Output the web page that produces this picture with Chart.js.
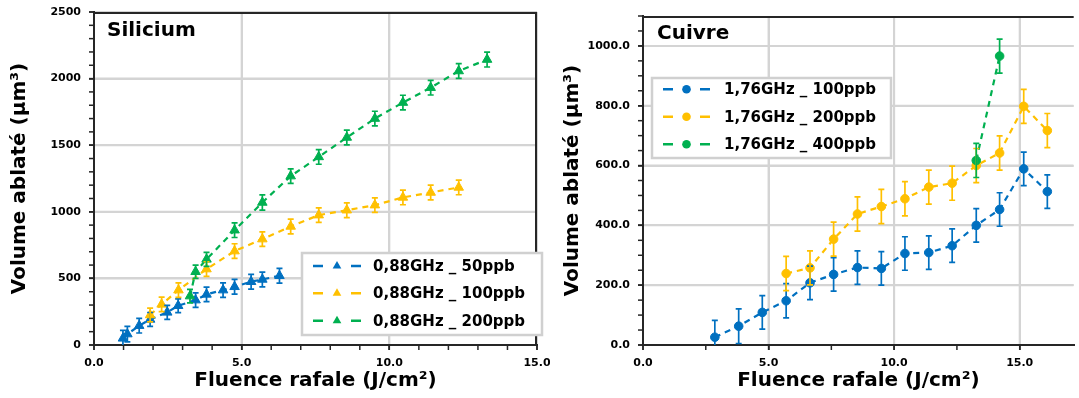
<!DOCTYPE html>
<html>
<head>
<meta charset="utf-8">
<script src="https://cdn.jsdelivr.net/npm/chart.js@4.4.1/dist/chart.umd.min.js"></script>
<style>
  html, body { margin: 0; padding: 0; background: #fff; }
  #wrap { position: relative; width: 1079px; height: 398px; overflow: hidden; }
  #left { position: absolute; left: 0; top: 0; }
  #right { position: absolute; left: 550px; top: 0; }
</style>
</head>
<body>
<div id="wrap">
  <canvas id="left" width="550" height="398"></canvas>
  <canvas id="right" width="529" height="398"></canvas>
</div>
<script>
// ---- Silicium, 0,88 GHz ----
const siLabels = ['0,88GHz _ 50ppb', '0,88GHz _ 100ppb', '0,88GHz _ 200ppb'];
const siX50 = [0.98, 1.13, 1.53, 1.90, 2.48, 2.85, 3.44, 3.81, 4.37, 4.76, 5.32, 5.70, 6.28];
const siY50 = [50, 82, 145, 192, 245, 295, 337, 380, 412, 437, 475, 492, 520];
const siE50 = [60, 58, 55, 52, 52, 52, 55, 55, 55, 55, 55, 55, 55];
const siX100 = [1.90, 2.29, 2.86, 3.81, 4.76, 5.70, 6.66, 7.61, 8.56, 9.51, 10.46, 11.40, 12.35];
const siY100 = [225, 305, 412, 570, 705, 795, 890, 975, 1012, 1050, 1108, 1145, 1183];
const siE100 = [52, 55, 55, 55, 55, 55, 55, 55, 55, 55, 55, 55, 55];
const siX200 = [3.25, 3.44, 3.81, 4.76, 5.70, 6.66, 7.61, 8.56, 9.51, 10.46, 11.40, 12.35, 13.31];
const siY200 = [367, 550, 643, 862, 1070, 1268, 1412, 1558, 1700, 1820, 1932, 2057, 2143];
const siE200 = [50, 50, 52, 55, 57, 55, 55, 55, 55, 55, 55, 55, 56];
const siXTicks = [0, 5, 10, 15];
const siYTicks = [0, 500, 1000, 1500, 2000, 2500];

// ---- Cuivre, 1,76 GHz ----
const cuLabels = ['1,76GHz _ 100ppb', '1,76GHz _ 200ppb', '1,76GHz _ 400ppb'];
const cuX100 = [2.86, 3.81, 4.75, 5.70, 6.65, 7.59, 8.54, 9.49, 10.43, 11.38, 12.31, 13.27, 14.20, 15.16, 16.10];
const cuY100 = [26, 63, 109, 148, 208, 236, 259, 256, 306, 309, 332, 400, 453, 589, 513];
const cuE100 = [56, 58, 56, 57, 56, 56, 56, 56, 56, 56, 56, 56, 56, 56, 56];
const cuX200 = [5.70, 6.65, 7.59, 8.54, 9.49, 10.43, 11.38, 12.31, 13.27, 14.20, 15.16, 16.10];
const cuY200 = [239, 258, 354, 438, 463, 489, 528, 541, 600, 642, 798, 717];
const cuE200 = [57, 57, 57, 57, 57, 57, 57, 57, 57, 57, 57, 57];
const cuX400 = [13.27, 14.20];
const cuY400 = [617, 966];
const cuE400 = [57, 57];
const cuXTicks = [0, 5, 10, 15];
const cuYTicks = [0, 200, 400, 600, 800, 1000];

const BLUE = '#0070C0';
const YELLOW = '#FFC000';
const GREEN = '#00B050';
const FONT = 'DejaVu Sans';
const GRID = '#d4d4d4';
const AXIS = '#262626';

function points(xs, ys) {
    return xs.map((x, i) => ({ x: x, y: ys[i] }));
}

function series(label, xs, ys, errs, color, style, radius, order) {
    return {
        label: label,
        data: points(xs, ys),
        errorBars: errs,
        borderColor: color,
        backgroundColor: color,
        borderWidth: 2.2,
        borderDash: [6, 5],
        pointStyle: style,
        pointRadius: radius,
        pointBackgroundColor: color,
        pointBorderColor: color,
        pointBorderWidth: 1,
        tension: 0,
        order: order
    };
}

function axis(o) {
    return {
        type: 'linear',
        min: 0,
        max: o.max,
        border: { color: AXIS, width: 2 },
        grid: {
            color: GRID,
            lineWidth: 2,
            tickColor: AXIS,
            tickWidth: 1.5,
            tickLength: 5
        },
        afterBuildTicks: s => { s.ticks = o.majors.map(v => ({ value: v })); },
        ticks: {
            autoSkip: false,
            maxRotation: 0,
            padding: o.pad,
            color: '#000',
            font: { family: FONT, size: 11, weight: 'bold' },
            callback: v => o.fmt(v)
        },
        title: {
            display: true,
            text: o.title,
            color: '#000',
            font: { family: FONT, size: 20, weight: 'bold' },
            padding: o.titlePad
        },
        afterFit: s => {
            if (s.isHorizontal()) s.height = o.size; else s.width = o.size;
            s.paddingTop = 0; s.paddingBottom = 0; s.paddingLeft = 0; s.paddingRight = 0;
        }
    };
}

function drawMarker(ctx, style, x, y, r) {
    ctx.beginPath();
    if (style === 'triangle') {
        ctx.moveTo(x, y - r);
        ctx.lineTo(x + r * 0.866, y + r * 0.5);
        ctx.lineTo(x - r * 0.866, y + r * 0.5);
        ctx.closePath();
    } else {
        ctx.arc(x, y, r, 0, Math.PI * 2);
    }
    ctx.fill();
}

// grid behind the data, then error bars, frame and minor tick marks on top
function drawOverlay(chart, o) {
    const ctx = chart.ctx;
    const a = chart.chartArea;
    const x = chart.scales.x, y = chart.scales.y;

    ctx.save();
    ctx.beginPath();
    ctx.rect(a.left, a.top, a.right - a.left, a.bottom - a.top);
    ctx.clip();

    ctx.globalCompositeOperation = 'destination-over';
    ctx.strokeStyle = GRID;
    ctx.lineWidth = 2;
    o.xMajors.forEach(v => {
        const px = x.getPixelForValue(v);
        if (v > 0) {
            ctx.beginPath(); ctx.moveTo(px, a.top); ctx.lineTo(px, a.bottom); ctx.stroke();
        }
    });
    o.yMajors.forEach(v => {
        const py = y.getPixelForValue(v);
        if (v > 0) {
            ctx.beginPath(); ctx.moveTo(a.left, py); ctx.lineTo(a.right, py); ctx.stroke();
        }
    });
    ctx.globalCompositeOperation = 'source-over';

    chart.data.datasets.forEach(ds => {
        ctx.strokeStyle = ds.borderColor;
        ctx.lineWidth = 1.7;
        ds.data.forEach((p, j) => {
            const px = x.getPixelForValue(p.x);
            const top = y.getPixelForValue(p.y + ds.errorBars[j]);
            const bot = y.getPixelForValue(p.y - ds.errorBars[j]);
            ctx.beginPath();
            ctx.moveTo(px, top); ctx.lineTo(px, bot);
            ctx.moveTo(px - 3, top); ctx.lineTo(px + 3, top);
            ctx.moveTo(px - 3, bot); ctx.lineTo(px + 3, bot);
            ctx.stroke();
        });
    });
    ctx.restore();

    ctx.save();
    ctx.strokeStyle = AXIS;
    ctx.lineWidth = 2;
    ctx.beginPath();
    ctx.moveTo(a.left, a.top + 1); ctx.lineTo(a.right, a.top + 1);
    ctx.stroke();
    if (o.rightBorder) {
        ctx.beginPath();
        ctx.moveTo(a.right - 1, a.top); ctx.lineTo(a.right - 1, a.bottom);
        ctx.stroke();
    }
    ctx.lineWidth = 1.5;
    for (let v = 0; v <= x.max + 1e-9; v += o.xMinor) {
        const px = x.getPixelForValue(v);
        ctx.beginPath(); ctx.moveTo(px, a.bottom); ctx.lineTo(px, a.bottom + 5); ctx.stroke();
    }
    for (let v = 0; v <= y.max + 1e-9; v += o.yMinor) {
        const py = y.getPixelForValue(v);
        ctx.beginPath(); ctx.moveTo(a.left - 5, py); ctx.lineTo(a.left, py); ctx.stroke();
    }
    ctx.restore();
}

function drawPanelText(chart, o) {
    const ctx = chart.ctx;
    ctx.save();
    ctx.fillStyle = '#000';
    ctx.font = 'bold 20px "' + FONT + '"';
    ctx.textBaseline = 'alphabetic';
    ctx.fillText(o.name, o.nameX, o.nameY);

    const L = o.legend;
    ctx.fillStyle = '#fff';
    ctx.fillRect(L.x, L.y, L.w, L.h);
    ctx.strokeStyle = '#d0d0d0';
    ctx.lineWidth = 2.5;
    ctx.strokeRect(L.x, L.y, L.w, L.h);
    chart.data.datasets.slice().sort((p, q) => q.order - p.order).forEach((ds, i) => {
        const ry = L.rows[i];
        ctx.strokeStyle = ds.borderColor;
        ctx.fillStyle = ds.borderColor;
        ctx.lineWidth = 2.5;
        ctx.beginPath();
        ctx.moveTo(L.s0, ry); ctx.lineTo(L.s0 + 10, ry);
        ctx.moveTo(L.s1 - 10, ry); ctx.lineTo(L.s1, ry);
        ctx.stroke();
        drawMarker(ctx, ds.pointStyle, (L.s0 + L.s1) / 2, ry, L.r);
        ctx.fillStyle = '#000';
        ctx.font = 'bold 15px "' + FONT + '"';
        ctx.textBaseline = 'middle';
        ctx.fillText(ds.label, L.tx, ry + 1);
    });
    ctx.restore();
}

const panelPlugin = {
    id: 'panel',
    afterDatasetsDraw(chart) {
        drawOverlay(chart, chart.options.plugins.panel);
    },
    afterDraw(chart) {
        drawPanelText(chart, chart.options.plugins.panel);
    }
};

const yTitle = 'Volume ablaté (µm³)';
const xTitle = 'Fluence rafale (J/cm²)';

new Chart(document.getElementById('left'), {
    type: 'line',
    data: {
        datasets: [
            series(siLabels[0], siX50, siY50, siE50, BLUE, 'triangle', 5.5, 2),
            series(siLabels[1], siX100, siY100, siE100, YELLOW, 'triangle', 5.5, 1),
            series(siLabels[2], siX200, siY200, siE200, GREEN, 'triangle', 5.5, 0)
        ]
    },
    options: {
        responsive: false,
        animation: false,
        devicePixelRatio: 1,
        layout: { padding: { top: 12, right: 13, left: 0, bottom: 0 } },
        scales: {
            x: axis({ max: 15, majors: siXTicks, fmt: v => v.toFixed(1), pad: 7,
                      title: xTitle, titlePad: { top: 0, bottom: 5 }, size: 53 }),
            y: axis({ max: 2500, majors: siYTicks, fmt: v => String(v), pad: 8,
                      title: yTitle, titlePad: { top: 8, bottom: 0 }, size: 94 })
        },
        plugins: {
            legend: { display: false },
            tooltip: { enabled: false },
            panel: {
                xMajors: siXTicks, yMajors: siYTicks,
                xMinor: 1, yMinor: 100,
                rightBorder: true,
                name: 'Silicium', nameX: 107, nameY: 36,
                legend: { x: 302, y: 253, w: 240, h: 82, rows: [266, 293.3, 320.7],
                          s0: 313, s1: 361, r: 5, tx: 373 }
            }
        }
    },
    plugins: [panelPlugin]
});

new Chart(document.getElementById('right'), {
    type: 'line',
    data: {
        datasets: [
            series(cuLabels[0], cuX100, cuY100, cuE100, BLUE, 'circle', 4.3, 2),
            series(cuLabels[1], cuX200, cuY200, cuE200, YELLOW, 'circle', 4.3, 1),
            series(cuLabels[2], cuX400, cuY400, cuE400, GREEN, 'circle', 4.3, 0)
        ]
    },
    options: {
        responsive: false,
        animation: false,
        devicePixelRatio: 1,
        layout: { padding: { top: 16, right: 0, left: 0, bottom: 0 } },
        scales: {
            x: axis({ max: 17.15, majors: cuXTicks, fmt: v => v.toFixed(1), pad: 7,
                      title: xTitle, titlePad: { top: 0, bottom: 5 }, size: 53 }),
            y: axis({ max: 1100, majors: cuYTicks, fmt: v => v.toFixed(1), pad: 8,
                      title: yTitle, titlePad: { top: 11, bottom: 0 }, size: 93 })
        },
        plugins: {
            legend: { display: false },
            tooltip: { enabled: false },
            panel: {
                xMajors: cuXTicks, yMajors: cuYTicks,
                xMinor: 2.5, yMinor: 50,
                rightBorder: false,
                name: 'Cuivre', nameX: 107, nameY: 39,
                legend: { x: 102, y: 78, w: 239, h: 80, rows: [89.3, 116.7, 144.3],
                          s0: 113, s1: 160, r: 4.3, tx: 174 }
            }
        }
    },
    plugins: [panelPlugin]
});
</script>
</body>
</html>
